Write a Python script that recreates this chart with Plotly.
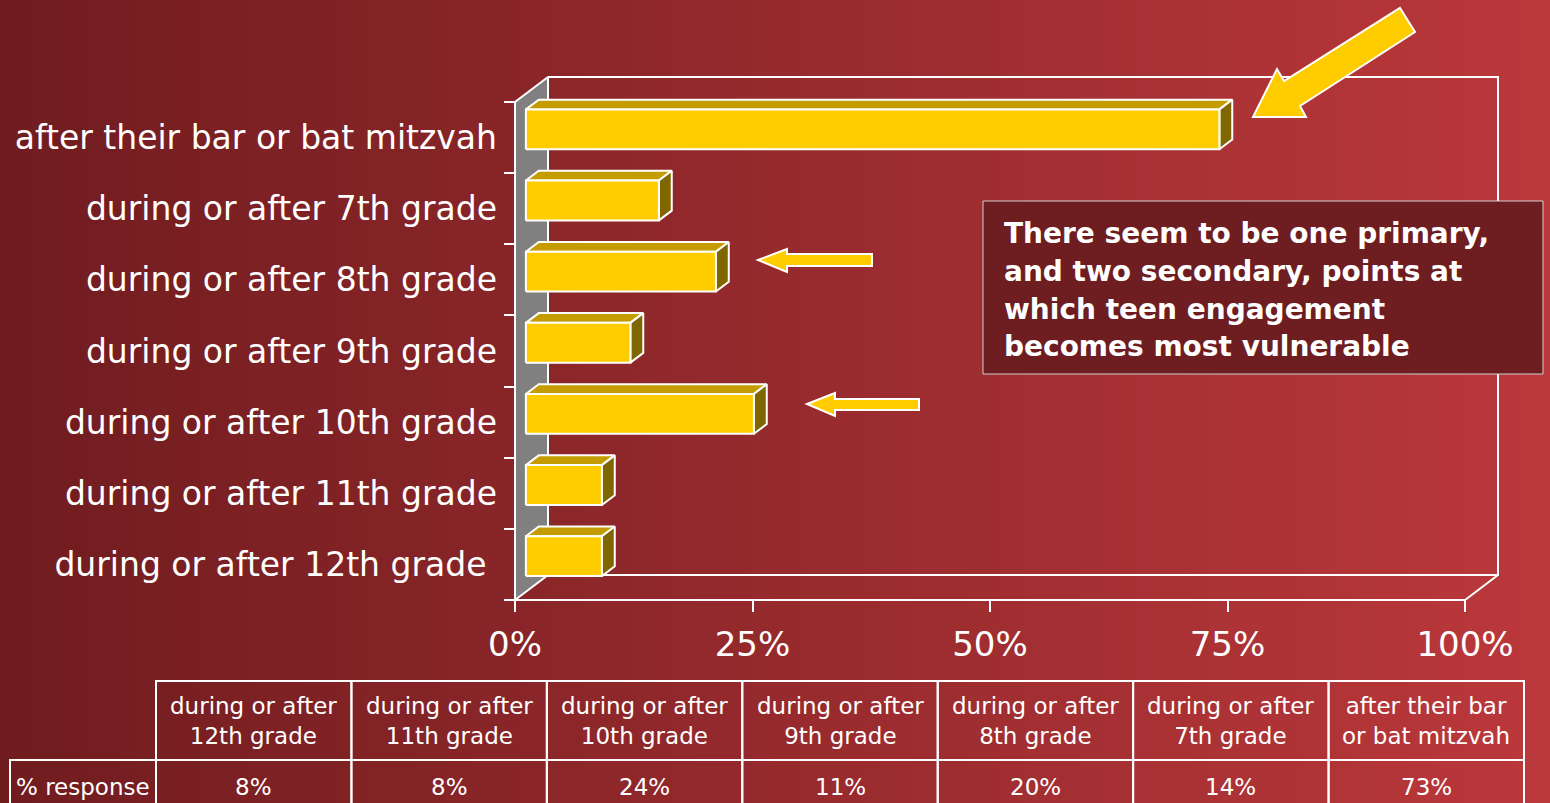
import plotly.graph_objects as go

# ---- data -------------------------------------------------------------
categories = [
    "during or after 12th grade\u00a0",
    "during or after 11th grade",
    "during or after 10th grade",
    "during or after 9th grade",
    "during or after 8th grade",
    "during or after 7th grade",
    "after their bar or bat mitzvah",
]
pct_response = [8, 8, 24, 11, 20, 14, 73]
table_headers = [
    "during or after<br>12th grade",
    "during or after<br>11th grade",
    "during or after<br>10th grade",
    "during or after<br>9th grade",
    "during or after<br>8th grade",
    "during or after<br>7th grade",
    "after their bar<br>or bat mitzvah",
]
row_label = "% response"
x_ticks = [0, 25, 50, 75, 100]
x_tick_labels = ["0%", "25%", "50%", "75%", "100%"]
callout_lines = [
    "There seem to be one primary,",
    "and two secondary, points at",
    "which teen engagement",
    "becomes most vulnerable",
]

# ---- page / style -----------------------------------------------------
W, H = 1550, 803
FONT = "DejaVu Sans"
GOLD, GOLD_TOP, GOLD_SIDE = "#FFCC00", "#C49C00", "#806600"
BG_LEFT, BG_RIGHT = "#701c1f", "#bb383b"

# 3-D depth: one unit of depth moves a point right by DX (% units)
# and up by DY (category units)
PX_PER_PCT = 9.5
PX_PER_CAT = 498 / 7
DX = 33 / PX_PER_PCT
DY = 25 / PX_PER_CAT
Z_FRONT, Z_BACK = 0.33, 0.72      # depth of the bar front / back faces
HALF = 0.28                        # half bar thickness (category units)


def proj(x, y, z):
    return x + DX * z, y + DY * z


def face(points, fill, closed=True):
    pts = [proj(*p) for p in points]
    if closed:
        pts.append(pts[0])
    xs, ys = zip(*pts)
    return go.Scatter(
        x=list(xs), y=list(ys), mode="lines",
        fill="toself" if fill else None, fillcolor=fill,
        line=dict(color="white", width=2),
        hoverinfo="skip", showlegend=False,
        xaxis="x2", yaxis="y2",
    )


fig = go.Figure()

# background gradient (full page)
fig.add_trace(go.Heatmap(
    z=[[0, 1], [0, 1]], x=[0, W], y=[0, 1], zsmooth="best",
    colorscale=[[0, BG_LEFT], [1, BG_RIGHT]], showscale=False,
    hoverinfo="skip", xaxis="x", yaxis="y",
))

n = len(categories)
ylo, yhi = -0.5, n - 0.5

# side wall
fig.add_trace(face([(0, ylo, 0), (0, yhi, 0), (0, yhi, 1), (0, ylo, 1)], "#808080"))
# back wall outline
fig.add_trace(face([(0, yhi, 1), (100, yhi, 1), (100, ylo, 1), (0, ylo, 1)], None, closed=False))
# floor outline
fig.add_trace(face([(0, ylo, 0), (100, ylo, 0), (100, ylo, 1)], None, closed=False))

# 3-D bars
for i, v in enumerate(pct_response):
    lo, hi = i - HALF, i + HALF
    fig.add_trace(face([(0, hi, Z_FRONT), (v, hi, Z_FRONT), (v, hi, Z_BACK), (0, hi, Z_BACK)], GOLD_TOP))
    fig.add_trace(face([(v, lo, Z_FRONT), (v, hi, Z_FRONT), (v, hi, Z_BACK), (v, lo, Z_BACK)], GOLD_SIDE))
    fig.add_trace(face([(0, lo, Z_FRONT), (v, lo, Z_FRONT), (v, hi, Z_FRONT), (0, hi, Z_FRONT)], GOLD))


# ---- page-pixel helpers -------------------------------------------------
def px(x):
    return x / W


def py(y):
    return 1 - y / H


def px_path(pts):
    s = " ".join(f"{'M' if k == 0 else 'L'}{px(x):.5f},{py(y):.5f}" for k, (x, y) in enumerate(pts))
    return s + " Z"


shapes = []
annotations = []

# ---- data table under the chart -----------------------------------------
TBL_LEFT, TBL_COL0, TBL_RIGHT = 10, 156, 1524
HEAD_TOP, HEAD_BOT, ROW_BOT = 681, 760, 815
col_w = (TBL_RIGHT - TBL_COL0) / n
cell_line = dict(color="white", width=2)
tbl_font = dict(family=FONT, size=23, color="white")

shapes.append(dict(type="rect", xref="paper", yref="paper",
                   x0=px(TBL_LEFT), x1=px(TBL_COL0), y0=py(ROW_BOT), y1=py(HEAD_BOT),
                   line=cell_line, layer="above"))
annotations.append(dict(x=px((TBL_LEFT + TBL_COL0) / 2), y=py(787), text=row_label,
                        font=tbl_font))
for k in range(n):
    x0 = TBL_COL0 + k * col_w
    x1 = x0 + col_w
    for top, bot in ((HEAD_TOP, HEAD_BOT), (HEAD_BOT, ROW_BOT)):
        shapes.append(dict(type="rect", xref="paper", yref="paper",
                           x0=px(x0), x1=px(x1), y0=py(bot), y1=py(top),
                           line=cell_line, layer="above"))
    annotations.append(dict(x=px((x0 + x1) / 2), y=py(721), text=table_headers[k],
                            font=tbl_font, align="center"))
    annotations.append(dict(x=px((x0 + x1) / 2), y=py(787), text=f"{pct_response[k]}%",
                            font=tbl_font))

# ---- arrows and call-out ------------------------------------------------
arrow_style = dict(type="path", xref="paper", yref="paper", fillcolor=GOLD,
                   line=dict(color="white", width=2), layer="above")
big_arrow = [(1400, 8), (1415, 32), (1300, 106), (1306, 117), (1253, 117), (1277, 69), (1284, 81)]
arrow_8th = [(758, 260), (787, 249), (787, 254), (872, 254), (872, 266), (787, 266), (787, 272)]
arrow_10th = [(807, 404), (835, 393), (835, 399), (919, 399), (919, 410), (835, 410), (835, 416)]
shapes += [dict(path=px_path(p), **arrow_style) for p in (big_arrow, arrow_8th, arrow_10th)]
shapes.append(dict(type="rect", xref="paper", yref="paper",
                   x0=px(983), x1=px(1543), y0=py(374), y1=py(201),
                   fillcolor="#6e1d20", line=dict(color="#d0d0d0", width=1), layer="above"))

callout_font = dict(family=FONT, size=28, color="white", weight="bold")
for j, line in enumerate(callout_lines):
    annotations.append(dict(x=px(1002), y=py(233 + 38 * j), xanchor="left",
                            text=line, font=callout_font))

for a in annotations:
    a.update(xref="paper", yref="paper", showarrow=False)
    a.setdefault("xanchor", "center")
    a.setdefault("yanchor", "middle")

fig.update_layout(
    width=W, height=H, autosize=False,
    margin=dict(l=0, r=0, t=0, b=0, pad=0, autoexpand=False),
    paper_bgcolor=BG_LEFT, plot_bgcolor="rgba(0,0,0,0)",
    showlegend=False, shapes=shapes, annotations=annotations,
    xaxis=dict(domain=[0, 1], range=[0, W], visible=False, fixedrange=True),
    yaxis=dict(domain=[0, 1], range=[0, 1], visible=False, fixedrange=True),
    xaxis2=dict(
        domain=[px(505), px(1512)],
        range=[-10 / PX_PER_PCT, (1512 - 515) / PX_PER_PCT],
        anchor="free", position=py(600),
        tickmode="array", tickvals=x_ticks, ticktext=x_tick_labels,
        ticks="outside", ticklen=11, tickwidth=2, tickcolor="white",
        ticklabelstandoff=3,
        tickfont=dict(family=FONT, size=34, color="white"),
        showgrid=False, zeroline=False, showline=False, fixedrange=True,
    ),
    yaxis2=dict(
        domain=[py(605), py(70)],
        range=[ylo - 5 / PX_PER_CAT, ylo + (600 - 70) / PX_PER_CAT],
        anchor="free", position=px(515),
        tickmode="array", tickvals=list(range(n)), ticktext=categories,
        ticks="", ticklabelstandoff=18,
        tickfont=dict(family=FONT, size=33, color="white"),
        minor=dict(tickmode="array", tickvals=[ylo + k for k in range(n + 1)],
                   ticks="outside", ticklen=11, tickwidth=2, tickcolor="white"),
        showgrid=False, zeroline=False, showline=False, fixedrange=True,
    ),
)

fig.write_html("out.html")
